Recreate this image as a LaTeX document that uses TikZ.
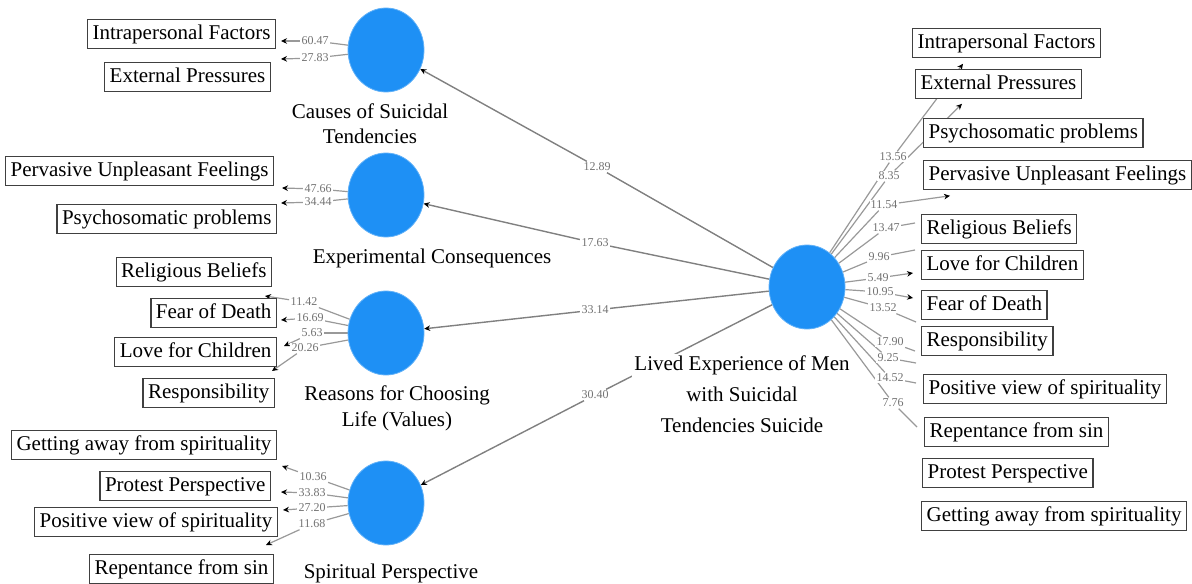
\documentclass[tikz,border=0pt]{standalone}
\usepackage{fontspec}
\setmainfont{Liberation Serif}
\usetikzlibrary{shapes.geometric,arrows.meta,calc}
\definecolor{lvblue}{RGB}{30,144,245}
\pgfdeclarelayer{bg}
\pgfsetlayers{bg,main}
\begin{document}
\begin{tikzpicture}[x=0.5pt,y=-0.5pt,
  ind/.style={draw=black!75,line width=0.6pt,inner xsep=2.5pt,inner ysep=2.2pt,
    font=\fontsize{10.5}{12}\selectfont,text height=7.5pt,text depth=2.3pt,fill=white},
  lv/.style={ellipse,fill=lvblue,draw=lvblue!70,line width=0.4pt,minimum width=38pt,minimum height=42pt,inner sep=0pt},
  lvtxt/.style={align=center,fill=white,inner sep=1pt},
  wt/.style={font=\fontsize{6}{7}\selectfont,text=black!55,inner sep=0.6pt,fill=white},
  ln/.style={draw=black!40,line width=0.6pt},
  inn/.style={draw=black!50,line width=0.7pt},
  arr/.style={-{Stealth[length=3pt,width=2.8pt,color=black]}}
]
\useasboundingbox (0,0) rectangle (1192,583);

% latent variables
\node[lv] (c1) at (386,50) {};
\node[lv] (c2) at (386,195) {};
\node[lv] (c3) at (386,333) {};
\node[lv] (c4) at (386,503) {};
\node[lv] (rc) at (807,287) {};

% latent labels
\node[lvtxt,font=\fontsize{10.5}{12.5}\selectfont] (t1) at (370,124) {Causes of Suicidal\\Tendencies};
\node[lvtxt,font=\fontsize{10.5}{12.5}\selectfont] (t2) at (432,258) {Experimental Consequences};
\node[lvtxt,font=\fontsize{10.5}{13}\selectfont] (t3) at (397,408) {Reasons for Choosing\\Life (Values)};
\node[lvtxt,font=\fontsize{10.5}{12.5}\selectfont] (t4) at (391,573) {Spiritual Perspective};
\node[lvtxt,font=\fontsize{10.5}{15.5}\selectfont] (t5) at (742,394) {Lived Experience of Men\\with Suicidal\\Tendencies Suicide};

% left indicators
\node[ind,anchor=east] (lIF) at (276,34) {Intrapersonal Factors};
\node[ind,anchor=east] (lEP) at (271,77) {External Pressures};
\node[ind,anchor=east] (lPU) at (274,171) {Pervasive Unpleasant Feelings};
\node[ind,anchor=east] (lPP) at (277,219) {Psychosomatic problems};
\node[ind,anchor=east] (lRB) at (272,272) {Religious Beliefs};
\node[ind,anchor=east] (lFD) at (277,313) {Fear of Death};
\node[ind,anchor=east] (lLC) at (277,352) {Love for Children};
\node[ind,anchor=east] (lRS) at (275,393) {Responsibility};
\node[ind,anchor=east] (lGA) at (277,445) {Getting away from spirituality};
\node[ind,anchor=east] (lPR) at (271,486) {Protest Perspective};
\node[ind,anchor=east] (lPV) at (278,522) {Positive view of spirituality};
\node[ind,anchor=east] (lRP) at (274,569) {Repentance from sin};

% right indicators
\node[ind,anchor=west] (rIF) at (912,43) {Intrapersonal Factors};
\node[ind,anchor=west] (rEP) at (915,84) {External Pressures};
\node[ind,anchor=west] (rPP) at (923,133) {Psychosomatic problems};
\node[ind,anchor=west] (rPU) at (923,175) {Pervasive Unpleasant Feelings};
\node[ind,anchor=west] (rRB) at (921,229) {Religious Beliefs};
\node[ind,anchor=west] (rLC) at (921,265) {Love for Children};
\node[ind,anchor=west] (rFD) at (921,305) {Fear of Death};
\node[ind,anchor=west] (rRS) at (921,341) {Responsibility};
\node[ind,anchor=west] (rPV) at (923,389) {Positive view of spirituality};
\node[ind,anchor=west] (rRP) at (924,432) {Repentance from sin};
\node[ind,anchor=west] (rPR) at (922,473) {Protest Perspective};
\node[ind,anchor=west] (rGA) at (921,516) {Getting away from spirituality};

% inner path weights
\node[wt] (w1) at (597,167) {12.89};
\node[wt] (w2) at (595,243) {17.63};
\node[wt] (w3) at (595,310) {33.14};
\node[wt] (w4) at (595,395) {30.40};

% left outer weights
\node[wt] (a1) at (315,41) {60.47};
\node[wt] (a2) at (315,58) {27.83};
\node[wt] (b1) at (318,189) {47.66};
\node[wt] (b2) at (318,202) {34.44};
\node[wt] (d1) at (304,302) {11.42};
\node[wt] (d2) at (310,318) {16.69};
\node[wt] (d3) at (312,333) {5.63};
\node[wt] (d4) at (305,348) {20.26};
\node[wt] (f1) at (313,477) {10.36};
\node[wt] (f2) at (312,493) {33.83};
\node[wt] (f3) at (312,508) {27.20};
\node[wt] (f4) at (312,524) {11.68};

% right outer weights
\node[wt] (g1) at (893,157) {13.56};
\node[wt] (g2) at (889,176) {8.35};
\node[wt] (g3) at (884,205) {11.54};
\node[wt] (g4) at (886,228) {13.47};
\node[wt] (g5) at (879,257) {9.96};
\node[wt] (g6) at (878,278) {5.49};
\node[wt] (g7) at (880,292) {10.95};
\node[wt] (g8) at (883,308) {13.52};
\node[wt] (g9) at (890,342) {17.90};
\node[wt] (g10) at (888,358) {9.25};
\node[wt] (g11) at (890,378) {14.52};
\node[wt] (g12) at (893,403) {7.76};

% free ends of the indicator connectors
\coordinate (ea1) at ($(lIF.east)+(5,7)$);
\coordinate (ea2) at ($(lEP.east)+(10,-18)$);
\coordinate (eb1) at ($(lPU.east)+(8,17)$);
\coordinate (eb2) at ($(lPP.east)+(4,-16)$);
\coordinate (ed1) at ($(lRB.east)+(-7,24)$);
\coordinate (ed2) at ($(lFD.east)+(4,7)$);
\coordinate (ed3) at ($(lLC.east)+(7,-6)$);
\coordinate (ed4) at ($(lRS.east)+(-3,-22)$);
\coordinate (ef1) at ($(lGA.east)+(5,21)$);
\coordinate (ef2) at ($(lPR.east)+(10,6)$);
\coordinate (ef3) at ($(lPV.east)+(5,-12)$);
\coordinate (ef4) at ($(lRP.east)+(-8,-24)$);

\coordinate (eg1) at ($(rIF.south west)+(51,6)$);
\coordinate (eg2) at ($(rEP.south west)+(47,5)$);
\coordinate (eg3) at ($(rPU.south west)+(27,6)$);
\coordinate (eg4) at ($(rRB.west)+(-6,-6)$);
\coordinate (eg5) at ($(rLC.west)+(-6,-15)$);
\coordinate (eg6) at ($(rLC.west)+(-8,8)$);
\coordinate (eg7) at ($(rFD.west)+(-8,-7)$);
\coordinate (eg8) at ($(rRS.west)+(-5,-19)$);
\coordinate (eg9) at ($(rRS.west)+(-6,10)$);
\coordinate (eg10) at ($(rRS.west)+(-5,22)$);
\coordinate (eg11) at ($(rPV.west)+(-7,-6)$);
\coordinate (eg12) at ($(rRP.west)+(-7,-5)$);

\begin{pgfonlayer}{bg}
% inner paths
\foreach \w/\c in {w1/c1,w2/c2,w3/c3,w4/c4}{
  \draw[inn] (rc) -- (\w);
  \draw[inn,arr] (\w) -- (\c);
}
% left outer
\foreach \w/\e in {a1/ea1,a2/ea2}{\draw[ln] (c1) -- (\w); \draw[ln,arr] (\w) -- (\e);}
\foreach \w/\e in {b1/eb1,b2/eb2}{\draw[ln] (c2) -- (\w); \draw[ln,arr] (\w) -- (\e);}
\foreach \w/\e in {d1/ed1,d2/ed2,d3/ed3,d4/ed4}{\draw[ln] (c3) -- (\w); \draw[ln,arr] (\w) -- (\e);}
\foreach \w/\e in {f1/ef1,f2/ef2,f3/ef3,f4/ef4}{\draw[ln] (c4) -- (\w); \draw[ln,arr] (\w) -- (\e);}
% right outer
\foreach \w/\e in {g1/eg1,g2/eg2,g3/eg3,g6/eg6,g7/eg7}{\draw[ln] (rc) -- (\w); \draw[ln,arr] (\w) -- (\e);}
\foreach \w/\e in {g4/eg4,g5/eg5,g8/eg8,g9/eg9,g10/eg10,g11/eg11,g12/eg12}{\draw[ln] (rc) -- (\w); \draw[ln] (\w) -- (\e);}
\end{pgfonlayer}
\end{tikzpicture}
\end{document}
